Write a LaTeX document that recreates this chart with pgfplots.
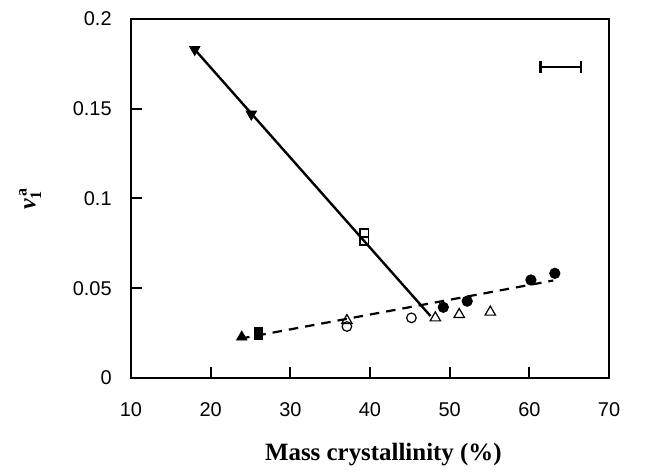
\documentclass[border=0pt]{standalone}
\usepackage{fontspec}
\setmainfont{Liberation Serif}
\setsansfont{Liberation Sans}
\usepackage{amsmath}
\usepackage{pgfplots}
\pgfplotsset{compat=1.18}
\begin{document}
\begin{tikzpicture}
\begin{axis}[
  name=ax,
  scale only axis,
  width=239bp, height=179.5bp,
  xmin=10, xmax=70, ymin=0, ymax=0.2,
  xtick={10,20,...,70},
  ytick={0,0.05,0.1,0.15,0.2},
  yticklabels={0,0.05,0.1,0.15,0.2},
  scaled y ticks=false,
  xtick pos=bottom, ytick pos=left,
  tick align=inside,
  major tick length=5.5bp,
  axis line style={line width=1bp},
  tick style={line width=1bp, black},
  /pgf/number format/assume math mode=true,
  ticklabel style={font=\sffamily\fontsize{10}{12}\selectfont},
  x tick label style={anchor=center, yshift=-16bp, inner sep=0pt},
  y tick label style={anchor=east, xshift=-9.5bp, inner sep=0pt},
  xlabel={\bfseries Mass crystallinity (\%)},
  xlabel style={font=\fontsize{12.5}{14}\selectfont, at={(axis description cs:0.528,0)}, anchor=center, yshift=-38.5bp},
  ylabel={\bfseries\itshape ν$_{\mathbf 1}^{\,\mathbf a}$},
  ylabel style={font=\fontsize{12}{14}\selectfont, at={(axis description cs:-0.211,0.5)}, anchor=center},
  clip=false,
]
% solid line
\addplot[black, line width=1.2bp, no marks] coordinates {(18,0.183) (47.6,0.0345)};
% dashed line
\addplot[black, line width=1.1bp, dash pattern=on 4.75bp off 3.5bp, no marks] coordinates {(23.7,0.0219) (63.0,0.0543)};
% filled down triangles
\addplot[only marks, mark=triangle*, mark options={rotate=180, fill=black}, mark size=3bp] coordinates {(18,0.183) (25.1,0.147)};
% open squares
\addplot[only marks, mark=square, mark options={fill=white, line width=0.6bp}, mark size=2.2bp] coordinates {(39.3,0.0805) (39.3,0.0765)};
% filled triangle up
\addplot[only marks, mark=triangle*, mark options={fill=black}, mark size=3bp] coordinates {(23.9,0.0228)};
% filled squares
\addplot[only marks, mark=square*, mark options={fill=black}, mark size=2.1bp] coordinates {(26,0.0258) (26,0.0238)};
% open triangles
\addplot[only marks, mark=triangle, mark options={fill=white, line width=0.6bp}, mark size=3bp] coordinates {(37.1,0.032) (48.2,0.0335) (51.2,0.0354) (55.1,0.0367)};
% open circles
\addplot[only marks, mark=o, mark options={fill=white, line width=0.6bp}, mark size=2.4bp] coordinates {(37.1,0.0287) (45.2,0.0335)};
% filled circles
\addplot[only marks, mark=*, mark options={fill=black}, mark size=2.6bp] coordinates {(49.2,0.0394) (52.2,0.0428) (60.2,0.0546) (63.2,0.0583)};
% error bar
\addplot[black, line width=1bp, mark=|, mark size=3bp, mark options={line width=1.2bp}] coordinates {(61.4,0.1733) (66.5,0.1733)};
\end{axis}
\path ([shift={(-65.5bp,-44.5bp)}]ax.south west) rectangle ([shift={(19bp,9.5bp)}]ax.north east);
\end{tikzpicture}
\end{document}
